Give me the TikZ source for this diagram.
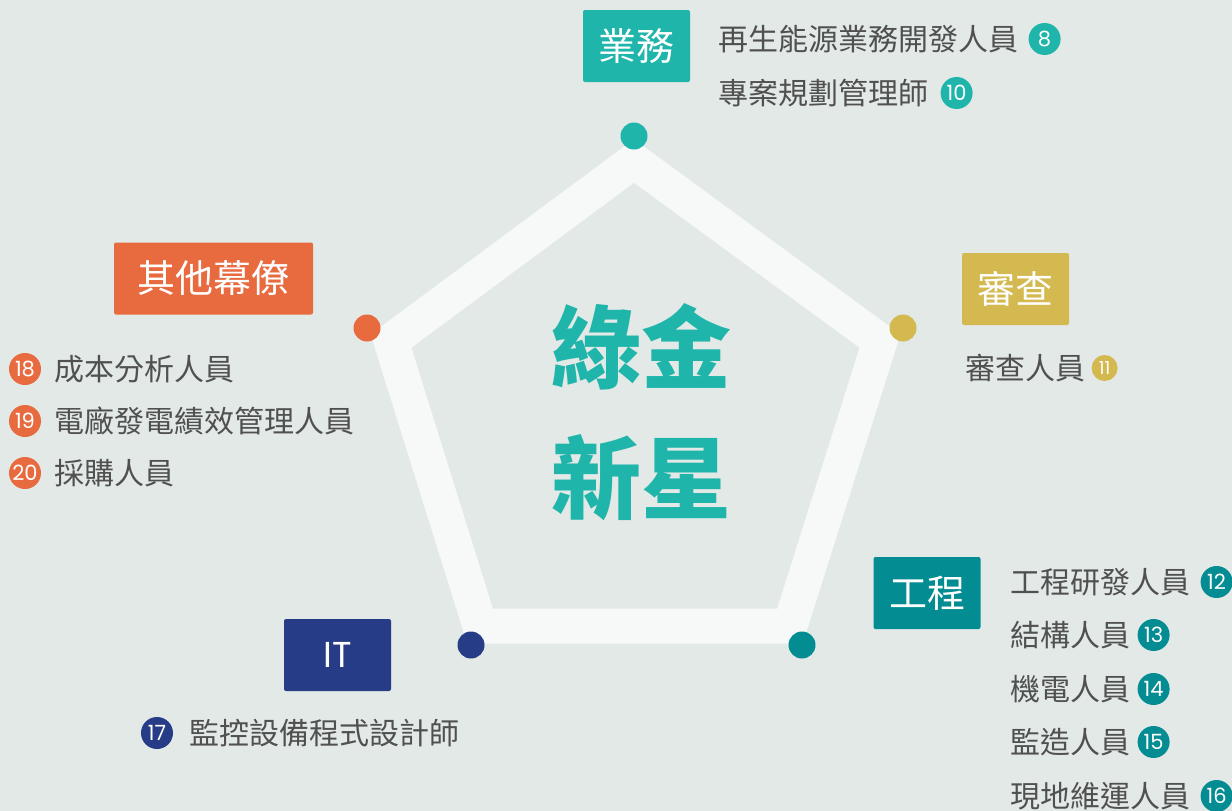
\documentclass[tikz,border=0pt]{standalone}
\usepackage{fontspec}
\setmainfont{Noto Sans CJK TC}
\newfontfamily\numfont{Poppins}
\usetikzlibrary{positioning}
\definecolor{paper}{HTML}{E2E9E6}
\definecolor{bizteal}{HTML}{1FB5AA}
\definecolor{revgold}{HTML}{D4B950}
\definecolor{engteal}{HTML}{038C92}
\definecolor{itblue}{HTML}{273C87}
\definecolor{staffred}{HTML}{E86B40}
\definecolor{itemgray}{HTML}{505050}
\tikzset{
  tag/.style={fill=#1, text=white, rounded corners=2pt, minimum width=107pt, minimum height=72pt, inner sep=0pt, font=\fontsize{38}{38}\selectfont},
  dot/.style={circle, fill=#1, minimum size=27pt, inner sep=0pt},
  badge/.style={circle, fill=#1, text=white, minimum size=32pt, inner sep=0pt, font=\numfont\fontsize{21}{21}\selectfont},
  item/.style={text=itemgray, inner sep=0pt, font=\fontsize{30}{30}\selectfont},
  headline/.style={text=bizteal, inner sep=0pt, font=\bfseries\fontsize{90}{90}\selectfont}
}
\begin{document}
\begin{tikzpicture}[x=1pt,y=-1pt]
\useasboundingbox (0,0) rectangle (1232,811);
\fill[paper] (0,0) rectangle (1232,811);
\draw[white,opacity=.75,line width=35pt,line join=miter] (634,161) -- (880,341) -- (790,626) -- (480,626) -- (391,341) -- cycle;
\node[headline] (hl1) at (641,347) {綠金};
\node[headline] (hl2) at (641,478) {新星};
\node[dot=bizteal] (d1) at (634,136) {};
\node[dot=revgold] (d2) at (903,328) {};
\node[dot=engteal] (d3) at (802,645) {};
\node[dot=itblue] (d4) at (471,645) {};
\node[dot=staffred] (d5) at (367,328) {};
\node[tag=bizteal] (biz) at (636.5,46) {業務};
\node[tag=revgold] (rev) at (1015.5,289) {審查};
\node[tag=engteal] (eng) at (927,593) {工程};
\node[tag=itblue, font=\numfont\fontsize{36}{36}\selectfont] (it) at (337.5,655) {IT};
\node[tag=staffred, minimum width=199pt] (staff) at (213.5,278.5) {其他幕僚};
\node[item,anchor=west] (biz1) at (718,39) {再生能源業務開發人員};
\node[badge=bizteal,right=10pt of biz1] (n8) {8};
\node[item,anchor=west] (biz2) at (718,93) {專案規劃管理師};
\node[badge=bizteal,right=12pt of biz2] (n10) {10};
\node[item,anchor=west] (rev1) at (965,368) {審查人員};
\node[badge=revgold,minimum size=26pt,font=\numfont\fontsize{18}{18}\selectfont,right=6pt of rev1] (n11) {11};
\node[item,anchor=west] (eng1) at (1010,582) {工程研發人員};
\node[badge=engteal,right=10pt of eng1] (n12) {12};
\node[item,anchor=west] (eng2) at (1010,635) {結構人員};
\node[badge=engteal,right=7pt of eng2] (n13) {13};
\node[item,anchor=west] (eng3) at (1010,689) {機電人員};
\node[badge=engteal,right=7pt of eng3] (n14) {14};
\node[item,anchor=west] (eng4) at (1010,742) {監造人員};
\node[badge=engteal,right=7pt of eng4] (n15) {15};
\node[item,anchor=west] (eng5) at (1010,796) {現地維運人員};
\node[badge=engteal,right=10pt of eng5] (n16) {16};
\node[badge=itblue] (n17) at (157,733) {17};
\node[item,right=16pt of n17] (it1) {監控設備程式設計師};
\node[badge=staffred] (n18) at (25,369) {18};
\node[item,right=13pt of n18] (staff1) {成本分析人員};
\node[badge=staffred] (n19) at (25,421) {19};
\node[item,right=13pt of n19] (staff2) {電廠發電績效管理人員};
\node[badge=staffred] (n20) at (25,473) {20};
\node[item,right=13pt of n20] (staff3) {採購人員};
\end{tikzpicture}
\end{document}
